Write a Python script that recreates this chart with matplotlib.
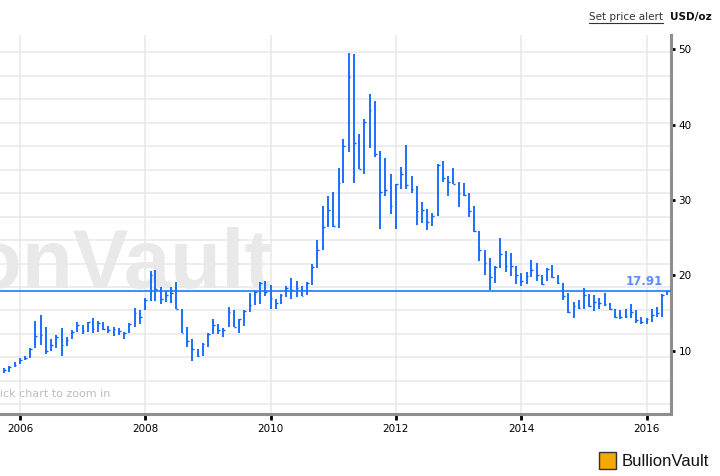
import numpy as np
import pandas as pd
import matplotlib
matplotlib.use("Agg")
import matplotlib.pyplot as plt
import matplotlib.dates as mdates
from matplotlib.lines import Line2D
from matplotlib.patches import Rectangle

# monthly silver bars, USD/oz (high / low / close), Oct 2005 - May 2016
months = pd.date_range("2005-10-01", periods=128, freq="MS")

highs = [
    7.65, 8.0, 8.45, 9.0, 9.3, 10.35, 14.0, 14.7, 13.1, 11.5, 12.1, 13.0,
    11.8, 12.7, 13.8, 13.4, 13.8, 14.3, 13.9, 13.8, 13.3, 13.1, 12.96, 12.5,
    13.7, 15.7, 15.4, 16.95, 20.6, 20.75, 18.4, 17.9, 18.4, 19.1, 15.5, 13.1,
    11.5, 10.2, 11.0, 12.3, 14.2, 13.6, 13.0, 15.75, 15.4, 14.25, 15.4, 17.6,
    17.9, 19.1, 19.25, 18.7, 16.85, 17.5, 18.6, 19.6, 19.3, 18.6, 19.1, 21.5,
    24.7, 29.24, 30.6, 31.05, 34.3, 38.1, 49.5, 49.4, 38.7, 40.7, 44.06, 43.2,
    36.5, 35.6, 33.4, 32.1, 34.4, 37.3, 33.2, 31.9, 29.7, 28.8, 28.3, 34.8,
    35.2, 33.2, 34.2, 32.4, 32.3, 31.0, 29.2, 25.9, 23.4, 22.3, 21.2, 24.95,
    23.2, 22.96, 21.2, 20.35, 20.4, 22.0, 21.6, 20.1, 21.0, 21.4, 20.05, 19.03,
    17.6, 16.5, 16.7, 18.3, 17.5, 17.4, 17.0, 17.7, 16.3, 15.6, 15.4, 15.6,
    16.15, 15.4, 14.5, 14.4, 15.5, 15.8, 17.5, 17.95,
]
lows = [
    7.07, 7.2, 7.8, 8.2, 8.76, 9.1, 10.3, 10.7, 9.6, 10.0, 10.3, 9.3,
    10.6, 11.5, 12.5, 12.2, 12.5, 12.4, 12.5, 12.8, 12.3, 12.0, 12.08, 11.5,
    12.4, 13.2, 13.6, 15.4, 16.6, 16.6, 16.2, 16.5, 16.4, 15.5, 12.4, 10.5,
    8.7, 9.2, 9.3, 10.5, 12.2, 12.2, 11.8, 13.1, 13.2, 12.3, 13.3, 15.2,
    16.1, 16.2, 17.2, 15.5, 15.5, 16.2, 17.1, 16.9, 17.1, 17.2, 17.4, 18.7,
    21.0, 23.35, 26.4, 26.45, 26.3, 32.3, 36.4, 32.3, 34.06, 33.4, 36.9, 35.7,
    26.1, 30.6, 28.1, 26.1, 31.5, 31.5, 31.0, 26.7, 26.9, 26.0, 26.6, 27.9,
    32.4, 30.6, 32.1, 29.1, 30.6, 27.8, 25.8, 21.94, 20.1, 18.1, 19.0, 21.0,
    20.5, 19.95, 18.8, 18.6, 18.9, 19.8, 19.2, 18.7, 19.25, 19.6, 18.9, 16.7,
    15.05, 14.4, 15.5, 15.6, 15.8, 15.3, 15.5, 15.9, 15.4, 14.3, 14.2, 14.3,
    14.4, 13.7, 13.5, 13.6, 13.85, 14.5, 14.5, 17.4,
]
closes = [
    7.5, 7.9, 8.1, 8.76, 9.1, 10.2, 11.9, 12.1, 9.9, 10.75, 11.8, 10.7,
    11.4, 12.5, 13.4, 12.6, 13.76, 12.9, 13.7, 12.9, 12.8, 12.9, 12.6, 12.3,
    13.6, 15.0, 14.5, 16.7, 20.0, 18.2, 16.8, 17.4, 17.7, 15.5, 12.4, 11.3,
    10.2, 9.3, 10.9, 12.2, 13.4, 12.7, 12.8, 15.1, 13.2, 14.2, 15.3, 16.1,
    17.8, 19.0, 17.8, 17.0, 16.3, 17.4, 18.3, 18.1, 18.3, 17.3, 19.0, 21.05,
    23.4, 26.45, 28.66, 26.6, 32.2, 37.2, 46.3, 37.6, 34.1, 40.3, 42.0, 36.05,
    31.1, 31.3, 29.2, 32.1, 33.4, 32.0, 31.5, 28.5, 28.7, 27.1, 27.9, 34.7,
    32.9, 32.4, 32.1, 30.9, 30.7, 28.6, 25.9, 23.4, 21.6, 19.8, 21.1, 22.9,
    21.2, 21.2, 20.1, 19.3, 19.9, 20.66, 20.0, 18.9, 20.8, 19.8, 19.0, 17.2,
    15.2, 16.0, 15.7, 17.4, 16.0, 16.5, 16.3, 16.2, 15.6, 14.5, 14.5, 14.65,
    15.2, 14.1, 13.8, 14.2, 14.7, 14.96, 17.4, 17.91,
]

last_price = 17.91
price_ticks = [10, 20, 30, 40, 50]
year_ticks = ["2006", "2008", "2010", "2012", "2014", "2016"]

blue = "#0a64ff"

fig = plt.figure(figsize=(7.2, 4.76), dpi=100)
ax = fig.add_axes([0.0, 0.1296, 0.9315, 0.7968])

x = mdates.date2num(months)
tick_len = 10  # days, close tick to the right

# light grid (horizontal lines are spaced evenly, not on the price ticks)
for g in np.linspace(2.89, 49.6, 16):
    ax.axhline(g, color="#e8e8e8", lw=1.1, zorder=0)
for yr in year_ticks:
    ax.axvline(pd.Timestamp(yr + "-01-01"), color="#e8e8e8", lw=1.1, zorder=0)

# watermark
ax.text(0.406, 0.333, "BullionVault", transform=ax.transAxes, ha="right",
        va="baseline", fontsize=60, fontweight="bold", color="#e9e9e9",
        zorder=0.5, family="Liberation Sans")
ax.text(-0.016, 0.045, "Click chart to zoom in", transform=ax.transAxes,
        ha="left", va="baseline", fontsize=8, color="#bdbdbd", zorder=0.5)

# OHLC style bars: high-low line plus close tick
ax.vlines(x, lows, highs, color=blue, lw=1.3, zorder=3)
ax.hlines(closes, x, x + tick_len, color=blue, lw=1.0, zorder=3)

# last price line and label
ax.axhline(last_price, color="#1f78ff", lw=1.2, zorder=4)
ax.text(0.988, last_price + 0.45, f"{last_price:.2f}", transform=ax.get_yaxis_transform(),
        ha="right", va="bottom", fontsize=8.5, fontweight="bold", color="#5d8cff")

ax.set_xlim(pd.Timestamp("2005-09-07"), pd.Timestamp("2016-05-20"))
ax.set_ylim(1.56, 51.9)

ax.set_xticks([pd.Timestamp(y + "-01-01") for y in year_ticks])
ax.set_xticklabels(year_ticks)
ax.set_yticks(price_ticks)
ax.set_yticklabels([str(p) for p in price_ticks])
ax.yaxis.tick_right()

for s in ["top", "left"]:
    ax.spines[s].set_visible(False)
for s in ["right", "bottom"]:
    ax.spines[s].set_color("#8e8e8e")
    ax.spines[s].set_linewidth(2.2)

ax.tick_params(axis="y", direction="out", length=3, width=2, color="black",
               labelsize=7.5, pad=2.5)
ax.tick_params(axis="x", direction="out", length=4, width=2, color="black",
               labelsize=7.5, pad=3)

# header texts
t = fig.text(0.921, 0.958, "Set price alert", ha="right", va="baseline",
             fontsize=7.5, color="#333333")
fig.text(0.989, 0.958, "USD/oz", ha="right", va="baseline", fontsize=7.5,
         fontweight="bold", color="#111111")
fig.canvas.draw()
bb = t.get_window_extent().transformed(fig.transFigure.inverted())
fig.add_artist(Line2D([bb.x0, bb.x1], [bb.y0 - 0.003, bb.y0 - 0.003],
                      color="#333333", lw=0.8, transform=fig.transFigure))

# logo bottom right
fig.add_artist(Rectangle((0.832, 0.015), 0.024, 0.036, transform=fig.transFigure,
                         facecolor="#f2a900", edgecolor="#333333", lw=1.0))
fig.text(0.864, 0.022, "BullionVault", ha="left", va="baseline", fontsize=12,
         color="#111111", family="Liberation Sans")

fig.savefig("out.png", dpi=100)
